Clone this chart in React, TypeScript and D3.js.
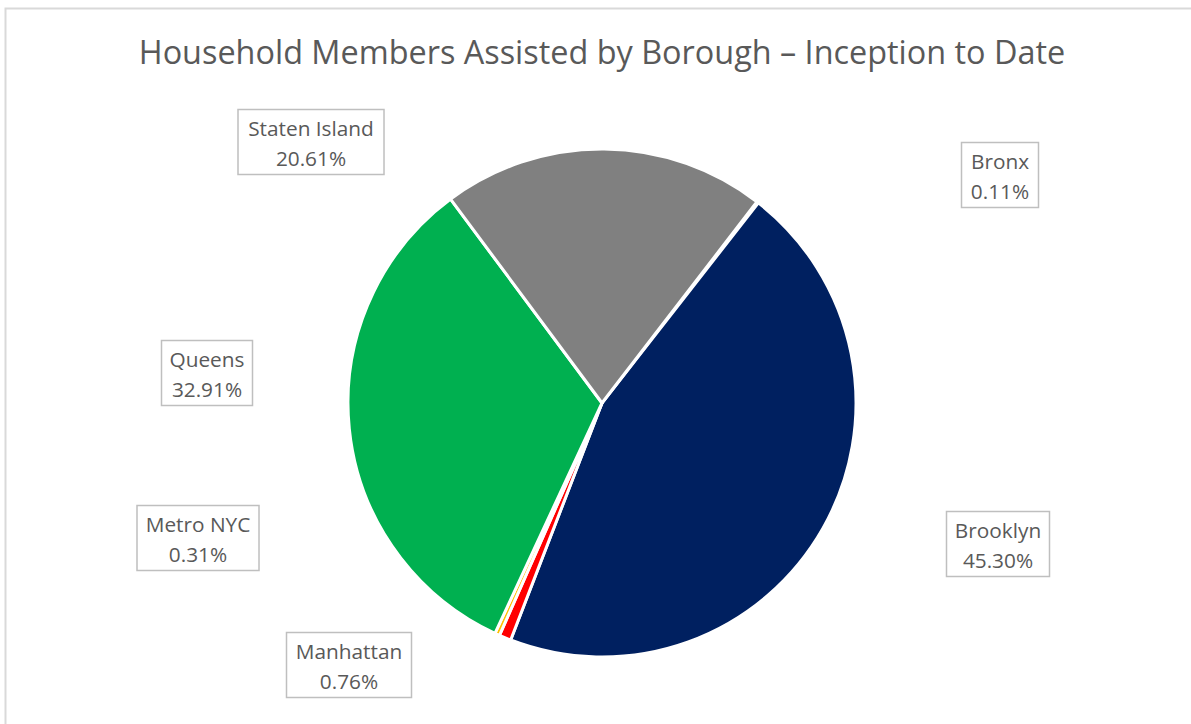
import React from "react";
import * as d3 from "d3";

const boroughs = ["Bronx", "Brooklyn", "Manhattan", "Metro NYC", "Queens", "Staten Island"];
const shares = [0.11, 45.3, 0.76, 0.31, 32.91, 20.61];
const colors = ["#5b9bd5", "#002060", "#ff0000", "#ffc000", "#00b050", "#808080"];
const labelText = ["0.11%", "45.30%", "0.76%", "0.31%", "32.91%", "20.61%"];

// layout: label box centres (px)
const labelPos: [number, number][] = [
  [1000, 175],
  [998, 544],
  [349, 665],
  [198, 538],
  [207, 373],
  [311, 142],
];
const labelBoxW = [77, 103, 125, 122, 91, 146];

const W = 1191;
const H = 724;
const cx = 602;
const cy = 403;
const R = 254;
const startDeg = 37.6;

export default function App() {
  const pie = d3
    .pie<number>()
    .sort(null)
    .value((d) => d)
    .startAngle((startDeg * Math.PI) / 180)
    .endAngle((startDeg * Math.PI) / 180 + 2 * Math.PI);
  const arcs = pie(shares);
  const arc = d3.arc<d3.PieArcDatum<number>>().innerRadius(0).outerRadius(R);
  const font = "'Open Sans', 'Noto Sans', sans-serif";
  return (
    <svg
      width={W}
      height={H}
      style={{ position: "absolute", left: 0, top: 0, background: "#fff" }}
    >
      <rect x={5.5} y={8.5} width={W + 10} height={H + 10} fill="#fff" stroke="#d9d9d9" strokeWidth={2} />
      <text
        x={602}
        y={64}
        textAnchor="middle"
        fontFamily={font}
        fontSize={32.4}
        fill="#595959"
      >
        Household Members Assisted by Borough – Inception to Date
      </text>
      <g transform={`translate(${cx},${cy})`}>
        {arcs.map((a, i) => (
          <path key={i} d={arc(a) || ""} fill={colors[i]} stroke="#fff" strokeWidth={3} strokeLinejoin="round" />
        ))}
      </g>
      {boroughs.map((b, i) => {
        const [lx, ly] = labelPos[i];
        const w = labelBoxW[i];
        const h = 65;
        return (
          <g key={b}>
            <rect x={lx - w / 2} y={ly - h / 2} width={w} height={h} fill="#fff" stroke="#bfbfbf" strokeWidth={1.5} />
            <text x={lx} y={ly - 6} textAnchor="middle" fontFamily={font} fontSize={20.8} fill="#595959">
              {b}
            </text>
            <text x={lx} y={ly + 24} textAnchor="middle" fontFamily={font} fontSize={20.8} fill="#595959">
              {labelText[i]}
            </text>
          </g>
        );
      })}
    </svg>
  );
}
